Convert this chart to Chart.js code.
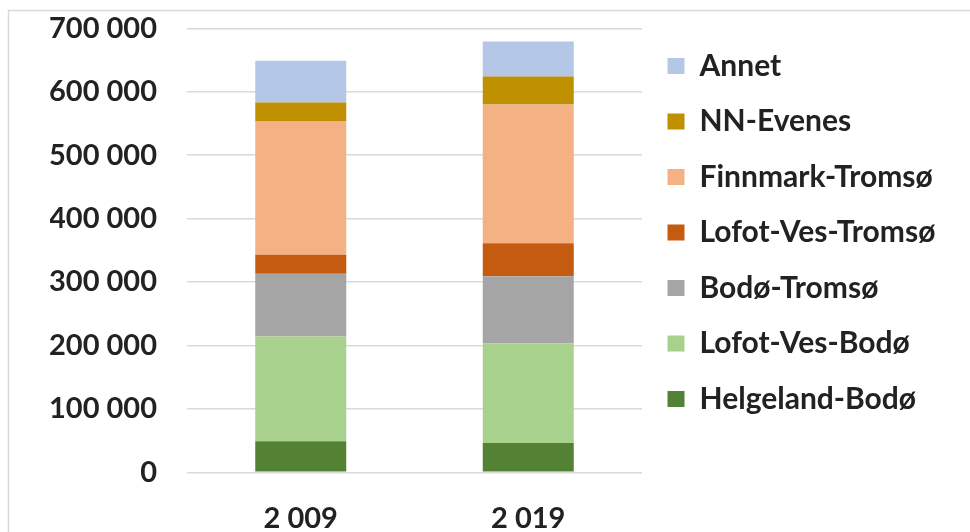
<!DOCTYPE html>
<html>
<head>
<meta charset="utf-8">
<script src="https://cdn.jsdelivr.net/npm/chart.js@4"></script>
<style>
  html, body { margin: 0; padding: 0; background: #fff; }
  #wrap { width: 970px; height: 532px; }
</style>
</head>
<body>
<div id="wrap"><canvas id="c" width="970" height="532"></canvas></div>
<script>
// Passengers per route group, 2009 vs 2019
const years = ['2 009', '2 019'];
const routes = ['Helgeland-Bodø', 'Lofot-Ves-Bodø', 'Bodø-Tromsø', 'Lofot-Ves-Tromsø', 'Finnmark-Tromsø', 'NN-Evenes', 'Annet'];
const helgelandBodo   = [49000, 46000];
const lofotVesBodo    = [165000, 157000];
const bodoTromso      = [99000, 106000];
const lofotVesTromso  = [30000, 52000];
const finnmarkTromso  = [211000, 219000];
const nnEvenes        = [29000, 44000];
const annet           = [66000, 55000];
const yMin = 0, yMax = 700000, yStep = 100000;

const seriesValues = [helgelandBodo, lofotVesBodo, bodoTromso, lofotVesTromso, finnmarkTromso, nnEvenes, annet];
const colors = ['#548235', '#A9D18E', '#A5A5A5', '#C55A11', '#F4B183', '#BF9000', '#B4C7E7'];

const FONT_FAMILY = 'Lato';
const FS = 29;        // axis labels
const LEG_FS = 30;    // legend labels
const TEXT = '#222222';
const LEG_PAD = 25.5;
const BOX = 17;

// reserve room on the right so the plot ends where the legend starts
const meas = document.createElement('canvas').getContext('2d');
meas.font = 'bold ' + LEG_FS + 'px ' + FONT_FAMILY;
const widest = Math.max(...routes.map(t => meas.measureText(t).width));
const legendWidth = LEG_PAD + BOX + LEG_FS / 2 + widest + 10;
const plotRight = 642;
const padRight = Math.max(0, 970 - plotRight - legendWidth);

const spaced = v => String(v).replace(/\B(?=(\d{3})+(?!\d))/g, ' ');

// light frame around the chart
const frame = {
  id: 'frame',
  beforeDraw(chart) {
    const c = chart.ctx;
    c.save();
    c.fillStyle = '#ffffff';
    c.fillRect(0, 0, chart.width, chart.height);
    c.strokeStyle = '#d9d9d9';
    c.lineWidth = 1.5;
    c.strokeRect(8.5, 10.5, chart.width + 20, chart.height + 20);
    c.restore();
  }
};

new Chart(document.getElementById('c'), {
  type: 'bar',
  data: {
    labels: years,
    datasets: routes.map((name, i) => ({
      label: name,
      data: seriesValues[i],
      backgroundColor: colors[i],
      borderWidth: 0,
      barPercentage: 0.4,
      categoryPercentage: 1.0
    }))
  },
  options: {
    responsive: false,
    animation: false,
    layout: { padding: { left: 50, top: 25.5, right: padRight, bottom: 0 } },
    plugins: {
      tooltip: { enabled: false },
      legend: {
        position: 'right',
        align: 'start',
        reverse: true,
        maxWidth: 400,
        labels: {
          boxWidth: BOX,
          boxHeight: 16,
          padding: LEG_PAD,
          color: TEXT,
          font: { family: FONT_FAMILY, size: LEG_FS, weight: 'bold' }
        }
      }
    },
    scales: {
      x: {
        stacked: true,
        grid: { display: false },
        border: { display: false },
        ticks: {
          color: TEXT,
          padding: 21,
          font: { family: FONT_FAMILY, size: FS, weight: 'bold' }
        },
        afterFit(s) { s.height = 59.7; }
      },
      y: {
        stacked: true,
        min: yMin,
        max: yMax,
        border: { display: false },
        grid: { color: '#d9d9d9', lineWidth: 1.5, drawTicks: false },
        ticks: {
          stepSize: yStep,
          color: TEXT,
          padding: 30,
          font: { family: FONT_FAMILY, size: FS, weight: 'bold' },
          callback: v => spaced(v)
        },
        afterFit(s) { s.width = 137; s.paddingTop = 28.3; }
      }
    }
  },
  plugins: [frame]
});
</script>
</body>
</html>
